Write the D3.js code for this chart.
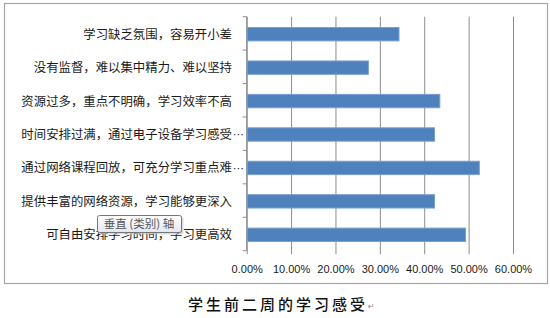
<!doctype html>
<html>
<head>
<meta charset="utf-8">
<title>学生前二周的学习感受</title>
<script src="https://d3js.org/d3.v7.min.js"></script>
<style>
body { margin:0; background:#fff; }
svg { display:block; }
.cat { font-family:"Noto Sans CJK SC", sans-serif; font-size:12.4px; fill:#1a1a1a; }
.tick text { font-family:"Liberation Sans", Arial, sans-serif; font-size:11px; fill:#1a1a1a; }
</style>
</head>
<body>
<div id="chart"></div>
<script>
// categories top to bottom, as in the picture
var categories = [
  "学习缺乏氛围，容易开小差",
  "没有监督，难以集中精力、难以坚持",
  "资源过多，重点不明确，学习效率不高",
  "时间安排过满，通过电子设备学习感受…",
  "通过网络课程回放，可充分学习重点难…",
  "提供丰富的网络资源，学习能够更深入",
  "可自由安排学习时间，学习更高效"
];
var values = [0.342, 0.273, 0.434, 0.422, 0.523, 0.422, 0.492];
var xTicks = [0, 0.1, 0.2, 0.3, 0.4, 0.5, 0.6];
var title = "学生前二周的学习感受";

var width = 550, height = 318;
// plot area edges (don't call it "top", that's window.top)
var pL = 246.7, pR = 513, pT = 16.7, pB = 250.7;

var svg = d3.select("#chart").append("svg")
  .attr("width", width).attr("height", height);

// outer chart frame
svg.append("rect")
  .attr("x", 4.5).attr("y", 3.5).attr("width", 543).attr("height", 280)
  .attr("fill", "#fff").attr("stroke", "#a6a6a6").attr("stroke-width", 1.2);

var x = d3.scaleLinear().domain([0, 0.6]).range([pL, pR]);
var y = d3.scaleBand().domain(categories).range([pT, pB])
  .paddingInner(0.6).paddingOuter(0.3);

// vertical gridlines + bottom axis
var xAxis = d3.axisBottom(x).tickValues(xTicks)
  .tickFormat(d3.format(".2%"))
  .tickSize(-(pB - pT)).tickSizeOuter(0).tickPadding(10);
var gx = svg.append("g").attr("transform", "translate(0," + pB + ")").call(xAxis);
gx.select(".domain").remove();
gx.selectAll(".tick line").attr("stroke", "#8c8c8c").attr("y2", 3.5)
  .attr("y1", -(pB - pT));
gx.selectAll(".tick text").attr("y", 16).attr("dy", "0.55em");

// left category axis line with ticks at band edges
svg.append("line").attr("x1", pL).attr("x2", pL).attr("y1", pT).attr("y2", pB)
  .attr("stroke", "#8c8c8c");
var step = y.step();
svg.selectAll(".ctick").data(d3.range(categories.length + 1)).enter().append("line")
  .attr("x1", pL - 4).attr("x2", pL)
  .attr("y1", function(i){ return pT + i * step; })
  .attr("y2", function(i){ return pT + i * step; })
  .attr("stroke", "#8c8c8c");

// bars
svg.selectAll(".bar").data(values).enter().append("rect")
  .attr("x", pL + 0.5)
  .attr("y", function(d, i){ return y(categories[i]) + 0.8; })
  .attr("width", function(d){ return x(d) - pL; })
  .attr("height", y.bandwidth())
  .attr("fill", "#4f81bd").attr("stroke", "#7a9fcf").attr("stroke-width", 1);

// category labels (cut ones get a mid-height ellipsis like Excel)
categories.forEach(function(c, i){
  var cy = y(c) + y.bandwidth() / 2 + 0.8;
  var cut = c.slice(-1) === "…";
  svg.append("text").attr("class", "cat")
    .attr("x", 232).attr("y", cy).attr("dy", "0.36em")
    .attr("text-anchor", "end")
    .text(cut ? c.slice(0, -1) : c);
  if (cut) {
    svg.append("text")
      .attr("x", 233).attr("y", cy).attr("dy", "0.36em")
      .style("font-family", "\"DejaVu Sans\", sans-serif").style("font-size", "11px")
      .attr("fill", "#1a1a1a").text("⋯");
  }
});

// tooltip box "垂直 (类别) 轴"
var tip = svg.append("g").attr("transform", "translate(97,215)");
var grad = svg.append("defs").append("linearGradient").attr("id", "tipg")
  .attr("x1", 0).attr("x2", 0).attr("y1", 0).attr("y2", 1);
grad.append("stop").attr("offset", "0").attr("stop-color", "#ffffff");
grad.append("stop").attr("offset", "1").attr("stop-color", "#e4e5f0");
tip.append("rect").attr("x", 1.5).attr("y", 1.5).attr("width", 85).attr("height", 18)
  .attr("rx", 2).attr("fill", "#c8c8c8").attr("opacity", 0.6);
tip.append("rect").attr("x", 0.5).attr("y", 0.5).attr("width", 84).attr("height", 17)
  .attr("rx", 2).attr("fill", "url(#tipg)").attr("stroke", "#767676");
tip.append("text").attr("x", 42).attr("y", 9).attr("dy", "0.36em")
  .attr("text-anchor", "middle")
  .style("font-family", "\"Noto Sans CJK SC\", sans-serif").style("font-size", "11.5px")
  .attr("fill", "#575757").text("垂直 (类别) 轴");

// title below the chart
var t = svg.append("text").attr("x", 188).attr("y", 305).attr("dy", "0.36em")
  .style("font-family", "\"Noto Sans CJK SC\", sans-serif").style("font-size", "15px")
  .style("font-weight", "500").style("letter-spacing", "3px")
  .attr("fill", "#111").text(title);
var tw = t.node().getComputedTextLength();
svg.append("text").attr("x", 188 + tw).attr("y", 309)
  .style("font-family", "\"DejaVu Sans\", sans-serif").style("font-size", "8px")
  .attr("fill", "#888").text("↵");
</script>
</body>
</html>
